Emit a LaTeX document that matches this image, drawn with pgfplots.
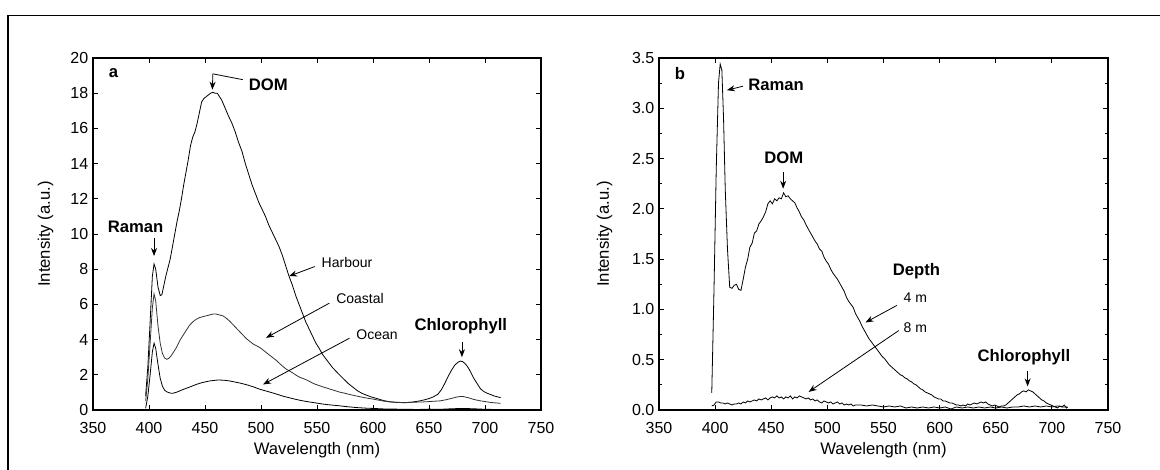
\documentclass[border=0pt]{standalone}
\usepackage{fontspec}
\setmainfont{Liberation Sans}
\usepackage{pgfplots}
\pgfplotsset{compat=1.18}
\usetikzlibrary{arrows.meta}
\pgfplotsset{
  panel/.style={
    scale only axis,
    height=264pt,
    xmin=350, xmax=750,
    xtick={350,400,...,750},
    tick pos=both,
    tick align=inside,
    major tick length=4pt,
    minor tick length=2.5pt,
    axis line style={line width=1.1pt},
    every tick/.style={line width=0.7pt, black},
    tick label style={font=\fontsize{12}{14}\selectfont},
    xticklabel style={yshift=-5.5pt},
    label style={font=\fontsize{12.5}{15}\selectfont},
    /pgf/number format/assume math mode=true,
    xlabel={Wavelength (nm)},
    ylabel={Intensity (a.u.)},
    xlabel style={yshift=0pt},
    clip=false,
  },
  crv/.style={line width=0.6pt, black, no markers},
}
\tikzset{
  ann/.style={font=\fontsize{12.5}{15}\selectfont\bfseries},
  sml/.style={font=\fontsize{10.5}{12}\selectfont},
  arr/.style={-{Stealth[length=6pt,width=4.5pt]}, line width=0.6pt},
}
\begin{document}
\begin{tikzpicture}
\useasboundingbox (0,0) rectangle (870pt,351.75pt);
\draw[line width=1.2pt] (6pt,-2pt) -- (6pt,340.1pt) -- (872pt,340.1pt);
% ---------------- panel a ----------------
\begin{axis}[panel, at={(69.75pt,44.25pt)}, anchor=south west, width=336pt,
  ymin=0, ymax=20, ytick={0,2,...,20}, ylabel style={yshift=6pt}]
\addplot[crv] coordinates {
(397,0.8)(399,2.5)(401,5.0)(403,7.6)(404.5,8.3)(406,8.0)(408,7.0)(410,6.5)(411.5,6.55)
(413,7.0)(415,7.6)(417,8.1)(419,8.6)(421,9.3)(423,10.0)(425,10.7)(427,11.3)(429,12.0)
(431,12.8)(433,13.5)(435,14.2)(437,15.0)(439,15.5)(441,15.8)(443,16.3)(445,16.9)(447,17.5)
(449,17.7)(451,17.8)(453,17.9)(455,18.0)(457,18.05)(459,18.0)(461,18.0)(463,17.8)(465,17.6)
(467,17.3)(469,17.0)(471,16.7)(474,16.3)(477,15.8)(480,15.2)(483,14.7)(486,14.0)(489,13.4)
(492,12.8)(495,12.3)(498,11.8)(501,11.4)(504,11.0)(507,10.5)(510,10.1)(513,9.7)(516,9.3)
(519,8.8)(522,8.2)(525,7.6)(528,7.1)(531,6.5)(534,6.0)(537,5.5)(540,5.0)(543,4.6)(546,4.2)
(549,3.8)(552,3.5)(555,3.15)(558,2.9)(561,2.65)(564,2.4)(567,2.2)(570,2.0)(574,1.75)(578,1.5)
(582,1.3)(586,1.1)(590,0.95)(594,0.85)(598,0.75)(602,0.68)(606,0.6)(610,0.53)(614,0.48)
(618,0.45)(622,0.43)(626,0.42)(630,0.42)(634,0.44)(638,0.48)(642,0.52)(646,0.58)(650,0.65)
(654,0.75)(658,0.9)(661,1.15)(664,1.5)(667,1.9)(670,2.25)(673,2.55)(676,2.72)(678,2.78)
(680,2.75)(682,2.65)(684,2.5)(686,2.3)(688,2.05)(690,1.8)(693,1.5)(696,1.2)(699,1.05)
(702,0.95)(705,0.88)(708,0.8)(711,0.75)(714,0.7)};
\addplot[crv, black!80] coordinates {
(397,0.5)(399,1.8)(401,3.8)(403,5.8)(404.5,6.6)(406,6.2)(408,4.8)(410,3.8)(412,3.2)(414,2.95)
(416,2.88)(418,2.95)(420,3.1)(422,3.3)(424,3.5)(426,3.75)(428,4.0)(430,4.2)(433,4.5)(436,4.8)
(439,5.0)(442,5.15)(445,5.25)(448,5.3)(451,5.35)(454,5.4)(457,5.45)(460,5.45)(463,5.4)
(466,5.35)(469,5.22)(472,5.05)(475,4.85)(478,4.65)(481,4.45)(484,4.25)(487,4.05)(490,3.9)
(493,3.75)(496,3.65)(499,3.55)(502,3.4)(505,3.25)(508,3.1)(511,2.95)(514,2.8)(517,2.62)
(520,2.45)(523,2.3)(526,2.2)(529,2.08)(532,1.95)(535,1.85)(538,1.78)(541,1.7)(544,1.6)
(547,1.5)(550,1.43)(555,1.32)(560,1.22)(565,1.12)(570,1.02)(575,0.95)(580,0.87)(585,0.8)
(590,0.73)(595,0.67)(600,0.62)(605,0.56)(610,0.5)(615,0.46)(620,0.44)(625,0.43)(630,0.43)
(635,0.44)(640,0.45)(645,0.46)(650,0.48)(655,0.5)(660,0.52)(665,0.58)(670,0.66)(675,0.74)
(678,0.77)(681,0.76)(685,0.7)(690,0.6)(695,0.53)(700,0.48)(705,0.43)(710,0.4)(714,0.38)};
\addplot[crv] coordinates {
(397,0.1)(399,0.8)(401,2.0)(403,3.3)(404.5,3.8)(406,3.5)(408,2.6)(410,1.8)(412,1.35)(414,1.12)
(416,1.03)(418,0.98)(420,0.95)(422,0.96)(425,1.02)(428,1.1)(431,1.18)(434,1.25)(437,1.32)
(440,1.4)(443,1.47)(446,1.53)(449,1.58)(452,1.62)(455,1.66)(458,1.68)(461,1.7)(464,1.7)
(467,1.69)(470,1.67)(473,1.64)(476,1.6)(479,1.56)(482,1.52)(485,1.47)(488,1.42)(491,1.36)
(494,1.3)(497,1.22)(500,1.16)(505,1.07)(510,0.98)(515,0.88)(520,0.78)(525,0.7)(530,0.62)
(535,0.55)(540,0.49)(545,0.44)(550,0.39)(555,0.34)(560,0.3)(565,0.27)(570,0.24)(575,0.2)
(580,0.17)(585,0.14)(590,0.12)(595,0.1)(600,0.09)(610,0.06)(620,0.05)(630,0.04)(640,0.03)
(650,0.05)(660,0.04)(670,0.07)(680,0.09)(690,0.07)(700,0.04)(710,0.03)(714,0.02)};
\node[ann, anchor=west] at (axis cs:360,19.15) {a};
\node[ann, anchor=west] at (axis cs:485,18.5) {DOM};
\draw[line width=0.6pt] (axis cs:483.7,18.77) -- (axis cs:457,19.1);
\draw[arr] (axis cs:457,19.1) -- (axis cs:456.6,18.2);
\node[ann] at (axis cs:388,10.4) {Raman};
\draw[arr] (axis cs:404.5,9.75) -- (axis cs:404.5,8.75);
\node[sml, anchor=west] at (axis cs:550,8.4) {Harbour};
\draw[arr] (axis cs:548,8.15) -- (axis cs:525,7.6);
\node[sml, anchor=west] at (axis cs:563,6.35) {Coastal};
\draw[arr] (axis cs:561,6.07) -- (axis cs:504.5,4.1);
\node[sml, anchor=west] at (axis cs:581,4.3) {Ocean};
\draw[arr] (axis cs:579,4.08) -- (axis cs:501.8,1.45);
\node[ann] at (axis cs:678.4,4.75) {Chlorophyll};
\draw[arr] (axis cs:679.4,3.85) -- (axis cs:679.4,3.0);
\end{axis}
% ---------------- panel b ----------------
\begin{axis}[panel, at={(494.25pt,44.25pt)}, anchor=south west, width=336.75pt,
  ymin=0, ymax=3.5, ytick={0,0.5,...,3.5}, minor y tick num=1, ylabel style={yshift=8pt},
  yticklabel style={/pgf/number format/.cd, fixed, fixed zerofill, precision=1}]
\addplot[crv] coordinates {
(397,0.17)(399,1.2)(401,2.4)(403,3.25)(404.5,3.44)(406,3.38)(407.5,2.9)(409,2.2)(411,1.6)
(413,1.22)(415,1.21)(417,1.24)(419,1.25)(421,1.2)(423,1.19)(425,1.3)(427,1.42)(429,1.5)
(431,1.62)(433,1.66)(435,1.76)(437,1.78)(439,1.85)(441,1.88)(443,1.92)(445,1.97)(447,2.05)
(449,2.08)(451,2.05)(453,2.1)(455,2.08)(457,2.11)(459,2.1)(461,2.16)(463,2.12)(465,2.13)
(467,2.1)(469,2.08)(471,2.06)(473,2.01)(475,1.97)(477,1.92)(479,1.89)(481,1.84)(483,1.8)
(485,1.76)(487,1.72)(489,1.68)(491,1.65)(493,1.6)(495,1.58)(497,1.52)(499,1.48)(501,1.45)
(503,1.4)(505,1.36)(507,1.33)(509,1.3)(511,1.26)(513,1.22)(515,1.18)(517,1.12)(519,1.08)
(521,1.05)(523,1.02)(525,0.96)(527,0.92)(529,0.88)(531,0.83)(533,0.79)(535,0.75)(537,0.71)
(539,0.68)(541,0.65)(543,0.62)(545,0.59)(547,0.56)(549,0.53)(551,0.51)(553,0.48)(555,0.45)
(557,0.43)(559,0.41)(561,0.39)(563,0.37)(565,0.35)(567,0.34)(569,0.32)(571,0.31)(573,0.29)
(575,0.28)(577,0.26)(579,0.25)(581,0.23)(583,0.21)(585,0.2)(587,0.18)(589,0.17)(591,0.16)
(593,0.15)(595,0.13)(597,0.12)(599,0.11)(601,0.11)(603,0.09)(605,0.09)(607,0.08)(609,0.07)
(611,0.07)(613,0.06)(615,0.05)(617,0.05)(619,0.04)(621,0.05)(623,0.04)(625,0.06)(627,0.05)
(629,0.06)(631,0.07)(633,0.06)(635,0.07)(637,0.08)(639,0.07)(641,0.08)(643,0.06)(645,0.05)
(647,0.04)(649,0.05)(651,0.04)(653,0.03)(655,0.04)(657,0.04)(659,0.05)(661,0.07)(663,0.09)
(665,0.11)(667,0.13)(669,0.15)(671,0.16)(673,0.18)(675,0.19)(677,0.18)(679,0.2)(681,0.19)
(683,0.18)(685,0.16)(687,0.14)(689,0.12)(691,0.1)(693,0.09)(695,0.07)(697,0.06)(699,0.05)
(701,0.04)(703,0.03)(705,0.02)(707,0.04)(709,0.03)(711,0.05)(713,0.02)(714,0.03)};
\addplot[crv] coordinates {
(397,0.04)(399,0.05)(401,0.08)(403,0.08)(405,0.07)(407,0.07)(409,0.06)(411,0.07)(413,0.06)
(415,0.05)(417,0.06)(419,0.06)(421,0.07)(423,0.06)(425,0.08)(427,0.07)(429,0.09)(431,0.08)
(433,0.09)(435,0.1)(437,0.09)(439,0.11)(441,0.1)(443,0.11)(445,0.12)(447,0.1)(449,0.12)
(451,0.13)(453,0.12)(455,0.14)(457,0.12)(459,0.13)(461,0.11)(463,0.13)(465,0.12)(467,0.14)
(469,0.11)(471,0.13)(473,0.12)(475,0.14)(477,0.13)(479,0.12)(481,0.11)(483,0.12)(485,0.1)
(487,0.11)(489,0.09)(491,0.1)(493,0.08)(495,0.07)(497,0.09)(499,0.08)(501,0.07)(503,0.08)
(505,0.06)(507,0.07)(509,0.08)(511,0.06)(513,0.07)(515,0.05)(517,0.06)(519,0.05)(521,0.06)
(523,0.04)(525,0.05)(530,0.05)(535,0.04)(540,0.05)(545,0.04)(550,0.03)(555,0.04)(560,0.03)
(565,0.04)(570,0.02)(575,0.03)(580,0.02)(585,0.03)(590,0.02)(595,0.03)(600,0.02)(605,0.03)
(610,0.01)(615,0.03)(620,0.02)(625,0.03)(630,0.02)(635,0.03)(640,0.02)(645,0.03)(650,0.02)
(655,0.03)(660,0.02)(665,0.03)(670,0.03)(675,0.04)(680,0.03)(685,0.04)(690,0.03)(695,0.04)
(700,0.03)(705,0.04)(710,0.03)(714,0.03)};
\node[ann, anchor=west] at (axis cs:360,3.35) {b};
\node[ann] at (axis cs:454.3,3.23) {Raman};
\draw[arr] (axis cs:424.9,3.22) -- (axis cs:410.5,3.18);
\node[ann] at (axis cs:461.2,2.51) {DOM};
\draw[arr] (axis cs:460.6,2.37) -- (axis cs:460.6,2.2);
\node[ann] at (axis cs:579.4,1.38) {Depth};
\node[sml] at (axis cs:578.4,1.12) {4 m};
\draw[arr] (axis cs:561.9,1.04) -- (axis cs:533.9,0.87);
\node[sml] at (axis cs:578.4,0.82) {8 m};
\draw[arr] (axis cs:563.6,0.79) -- (axis cs:483.3,0.18);
\node[ann] at (axis cs:675.1,0.525) {Chlorophyll};
\draw[arr] (axis cs:678.4,0.39) -- (axis cs:678.4,0.235);
\end{axis}
\end{tikzpicture}
\end{document}
